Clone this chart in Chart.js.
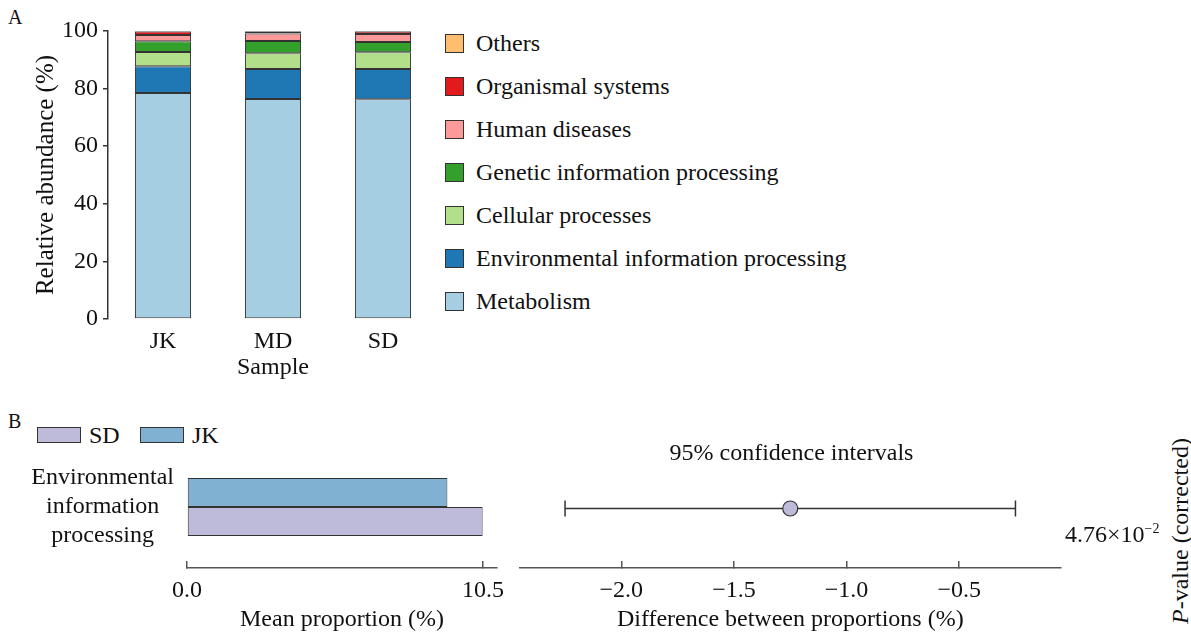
<!DOCTYPE html>
<html>
<head>
<meta charset="utf-8">
<script src="https://cdn.jsdelivr.net/npm/chart.js@4.4.1/dist/chart.umd.min.js"></script>
<style>
  html, body { margin: 0; padding: 0; background: #fff; }
  body { width: 1191px; height: 634px; position: relative; overflow: hidden;
         font-family: "Liberation Serif", "Times New Roman", serif; color: #111; font-size: 24px; }
  canvas { position: absolute; }
  .abs { position: absolute; white-space: nowrap; line-height: 1; }
  .tag { font-size: 20px; }
  .legend-row { position: absolute; display: flex; align-items: center; white-space: nowrap; }
  .sw { box-sizing: border-box; border: 1.5px solid #333; display: inline-block; }
  #pvalTitle { transform: translate(-50%, -50%) rotate(-90deg); }
  sup { font-size: 14px; vertical-align: 0; position: relative; top: -9px; }
</style>
</head>
<body>
<div class="abs tag" style="left:8px;top:7px">A</div>
<canvas id="abundance" width="440" height="390" style="left:0;top:0"></canvas>
<div id="legendA"></div>

<div class="abs tag" style="left:8px;top:411px">B</div>
<div id="legendB"></div>
<canvas id="meanProp" width="530" height="224" style="left:0;top:410px"></canvas>
<canvas id="diffCI" width="560" height="224" style="left:510px;top:410px"></canvas>
<div id="pval" class="abs" style="left:1065px;top:522px"></div>
<div id="pvalTitle" class="abs" style="left:1180px;top:531px"><i>P</i>-value (corrected)</div>

<script>
// ---- Panel A: KEGG level-1 relative abundance (%) per sample ----
const samples = ['JK', 'MD', 'SD'];
const pathways = ['Metabolism', 'Environmental information processing', 'Cellular processes',
                  'Genetic information processing', 'Human diseases', 'Organismal systems', 'Others'];
const pathwayColors = ['#a6cee3', '#1f78b4', '#b2df8a', '#33a02c', '#fb9a99', '#e31a1c', '#fdbf6f'];
const metabolism    = [78.5, 76.4, 76.3];
const environmental = [9.3, 10.4, 10.5];
const cellular      = [4.9, 5.5, 5.8];
const genetic       = [3.7, 4.2, 3.6];
const humanDiseases = [2.2, 2.6, 2.8];
const organismal    = [1.2, 0.7, 0.8];
const others        = [0.2, 0.2, 0.2];

// ---- Panel B: two-group comparison (SD vs JK) ----
const featureLabel = ['Environmental', 'information', 'processing'];
const groupNames  = ['JK', 'SD'];
const groupColors = ['#80b1d3', '#bebada'];
const meanJK = [9.24];
const meanSD = [10.49];
const meanTicks = [0, 10.5];
const diffEstimate = [-1.25];
const ciLower = [-2.25];
const ciUpper = [-0.25];
const diffTicks = [-2.0, -1.5, -1.0, -0.5];
const pValues = [0.0476];

const FONT = 24;
const INK = '#111';
Chart.defaults.font.family = '"Liberation Serif", "Times New Roman", serif';
Chart.defaults.font.size = FONT;
Chart.defaults.color = INK;

const seriesA = [metabolism, environmental, cellular, genetic, humanDiseases, organismal, others];

new Chart(document.getElementById('abundance'), {
  type: 'bar',
  data: {
    labels: samples,
    datasets: pathways.map((name, i) => ({
      label: name,
      data: seriesA[i],
      backgroundColor: pathwayColors[i],
      borderColor: '#333',
      borderWidth: 1,
      borderSkipped: false,
      categoryPercentage: 0.51,
      barPercentage: 1
    }))
  },
  options: {
    responsive: false,
    animation: false,
    layout: { padding: { top: 31, right: 2, left: 0, bottom: 0 } },
    plugins: { legend: { display: false }, tooltip: { enabled: false } },
    scales: {
      x: {
        stacked: true,
        grid: { display: false, drawTicks: false },
        border: { display: false },
        ticks: { padding: 8, color: INK },
        title: { display: true, text: 'Sample', color: INK, padding: { top: 0, bottom: 8 } },
        afterFit(s) { s.height = 71; }
      },
      y: {
        stacked: true,
        min: 0, max: 100,
        ticks: { stepSize: 20, padding: 5, color: INK },
        grid: { drawOnChartArea: false, tickLength: 5, color: '#333', lineWidth: 1.5 },
        border: { color: '#333', width: 1.5 },
        title: { display: true, text: 'Relative abundance (%)', color: INK, font: { size: 25 },
                 padding: { top: 31, bottom: 0 } },
        afterFit(s) { s.width = 108; }
      }
    }
  }
});

// Legend for panel A, top item is the last stacked series
(function buildLegendA() {
  const host = document.getElementById('legendA');
  const order = pathways.map((_, i) => i).reverse();
  order.forEach((idx, row) => {
    const el = document.createElement('div');
    el.className = 'legend-row';
    el.style.left = '445px';
    el.style.top = (43 + row * 43 - 14) + 'px';
    el.style.height = '28px';
    el.innerHTML = '<span class="sw" style="width:19px;height:19px;background:' + pathwayColors[idx] +
                   '"></span><span style="margin-left:12px">' + pathways[idx] + '</span>';
    host.appendChild(el);
  });
})();

// Legend for panel B (SD first, then JK)
(function buildLegendB() {
  const host = document.getElementById('legendB');
  const items = [{ n: groupNames[1], c: groupColors[1], x: 37 }, { n: groupNames[0], c: groupColors[0], x: 140 }];
  items.forEach(it => {
    const el = document.createElement('div');
    el.className = 'legend-row';
    el.style.left = it.x + 'px';
    el.style.top = '421px';
    el.style.height = '28px';
    el.innerHTML = '<span class="sw" style="width:44px;height:16px;background:' + it.c +
                   '"></span><span style="margin-left:8px">' + it.n + '</span>';
    host.appendChild(el);
  });
})();

// Mean proportion bars
new Chart(document.getElementById('meanProp'), {
  type: 'bar',
  data: {
    labels: [featureLabel],
    datasets: [
      { label: groupNames[0], data: meanJK, backgroundColor: groupColors[0] },
      { label: groupNames[1], data: meanSD, backgroundColor: groupColors[1] }
    ]
  },
  options: {
    indexAxis: 'y',
    responsive: false,
    animation: false,
    layout: { padding: { top: 36, right: 33, left: 0, bottom: 0 } },
    datasets: { bar: { categoryPercentage: 0.475, barPercentage: 1, borderColor: '#333', borderWidth: 1, borderSkipped: false } },
    plugins: { legend: { display: false }, tooltip: { enabled: false } },
    scales: {
      y: {
        grid: { display: true, drawOnChartArea: false, tickLength: 10, color: 'rgba(0,0,0,0)' },
        border: { display: false },
        ticks: { crossAlign: 'center', color: INK, font: { size: FONT, lineHeight: 1.2 } },
        afterFit(s) { s.width = 187; s.paddingTop = 0; s.paddingBottom = 0; }
      },
      x: {
        min: 0, max: 11,
        afterBuildTicks(s) { s.ticks = meanTicks.map(v => ({ value: v })); },
        ticks: { callback: v => Number(v).toFixed(1), padding: 15, color: INK, maxRotation: 0 },
        grid: { drawOnChartArea: false, tickLength: -7, color: '#555', lineWidth: 1.5 },
        border: { color: '#555', width: 1.5 },
        title: { display: true, text: 'Mean proportion (%)', color: INK, padding: { top: 0, bottom: 0 } },
        afterFit(s) { s.height = 66; }
      }
    }
  }
});

// Difference with 95% confidence interval
const minus = v => (v < 0 ? '\u2212' : '') + Math.abs(v).toFixed(1);
new Chart(document.getElementById('diffCI'), {
  type: 'scatter',
  data: {
    datasets: [
      {
        label: 'Difference',
        data: diffEstimate.map(v => ({ x: v, y: 0 })),
        pointRadius: 7.5,
        pointBackgroundColor: groupColors[1],
        pointBorderColor: '#333',
        pointBorderWidth: 1.2
      },
      {
        label: '95% CI',
        data: [{ x: ciLower[0], y: 0 }, { x: ciUpper[0], y: 0 }],
        showLine: true,
        borderColor: '#333',
        borderWidth: 1.5,
        pointStyle: 'line',
        rotation: 90,
        pointRadius: 8,
        pointBorderColor: '#333',
        pointBorderWidth: 1.5
      }
    ]
  },
  options: {
    responsive: false,
    animation: false,
    layout: { padding: { top: 0, right: 7, left: 10, bottom: 0 } },
    plugins: {
      legend: { display: false },
      tooltip: { enabled: false },
      title: { display: true, text: '95% confidence intervals', color: INK,
               font: { size: FONT, weight: 'normal' }, padding: { top: 29, bottom: 5 } }
    },
    scales: {
      x: {
        min: -2.45, max: -0.05,
        afterBuildTicks(s) { s.ticks = diffTicks.map(v => ({ value: v })); },
        ticks: { callback: v => minus(Number(v)), padding: 15, color: INK, maxRotation: 0 },
        grid: { drawOnChartArea: false, tickLength: -7, color: '#555', lineWidth: 1.5 },
        border: { color: '#555', width: 1.5 },
        title: { display: true, text: 'Difference between proportions (%)', color: INK, padding: { top: 0, bottom: 0 } },
        afterFit(s) { s.height = 66; }
      },
      y: { display: false, min: -1, max: 0.6 }
    }
  }
});

// Corrected p-value in scientific notation
(function writeP() {
  const p = pValues[0];
  const exp = Math.floor(Math.log10(p));
  const mant = (p / Math.pow(10, exp)).toFixed(2);
  document.getElementById('pval').innerHTML = mant + '\u00d710<sup>' + (exp < 0 ? '\u2212' : '') + Math.abs(exp) + '</sup>';
})();
</script>
</body>
</html>
